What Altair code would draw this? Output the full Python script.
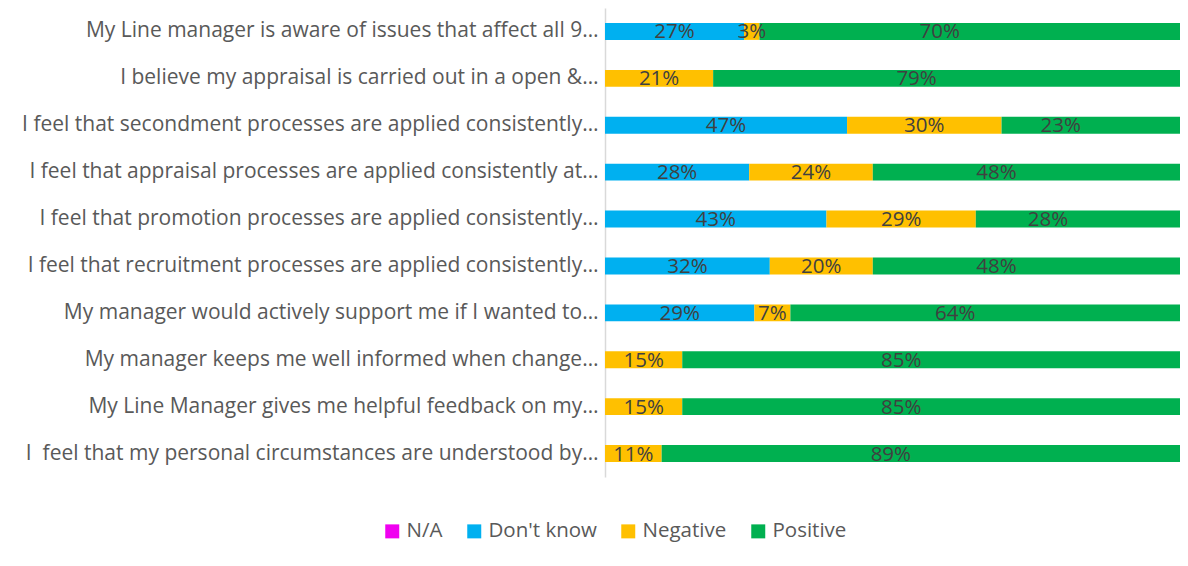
import altair as alt
import pandas as pd

categories = [
    "My Line manager is aware of issues that affect all 9\u2026",
    "I believe my appraisal is carried out in a open &\u2026",
    "I feel that secondment processes are applied consistently\u2026",
    "I feel that appraisal processes are applied consistently at\u2026",
    "I feel that promotion processes are applied consistently\u2026",
    "I feel that recruitment processes are applied consistently\u2026",
    "My manager would actively support me if I wanted to\u2026",
    "My manager keeps me well informed when change\u2026",
    "My Line Manager gives me helpful feedback on my\u2026",
    "I\u00a0 feel that my personal circumstances are understood by\u2026",
]
series_names = ["N/A", "Don't know", "Negative", "Positive"]
na_values = [0, 0, 0, 0, 0, 0, 0, 0, 0, 0]
dont_know_values = [27, 0, 47, 28, 43, 32, 29, 0, 0, 0]
negative_values = [3, 21, 30, 24, 29, 20, 7, 15, 15, 11]
positive_values = [70, 79, 23, 48, 28, 48, 64, 85, 85, 89]
series_colors = ["#F000F0", "#00B0F0", "#FFC000", "#00B050"]

# the plot area in the reference runs past 100% (the last segment fills it)
axis_max = 111.65

rows = []
for i, cat in enumerate(categories):
    vals = [na_values[i], dont_know_values[i], negative_values[i], positive_values[i]]
    start = 0
    for j, (name, v) in enumerate(zip(series_names, vals)):
        end = start + v
        bar_end = axis_max if name == "Positive" else end
        rows.append({
            "category": cat,
            "series": name,
            "order": j,
            "value": v,
            "start": start,
            "end": end,
            "bar_end": bar_end,
            "mid": (start + end) / 2,
            "label": f"{v}%",
        })
        start = end
df = pd.DataFrame(rows)

FONT = "Open Sans"

y_enc = alt.Y(
    "category:N",
    sort=categories,
    scale=alt.Scale(paddingInner=0.64, paddingOuter=0.32),
    axis=alt.Axis(
        title=None,
        ticks=False,
        grid=False,
        labelFont=FONT,
        labelFontSize=21,
        labelColor="#595959",
        labelPadding=7,
        labelLimit=700,
        domainColor="#D9D9D9",
        domainWidth=1.5,
    ),
)
x_scale = alt.Scale(domain=[0, axis_max], nice=False, zero=True)

bars = alt.Chart(df).transform_filter("datum.value > 0 || datum.series == 'N/A'").mark_bar().encode(
    y=y_enc,
    x=alt.X("start:Q", scale=x_scale, axis=None),
    x2="bar_end:Q",
    color=alt.Color(
        "series:N",
        scale=alt.Scale(domain=series_names, range=series_colors),
        legend=alt.Legend(
            title=None,
            orient="none",
            direction="horizontal",
            legendX=-223,
            legendY=513,
            symbolType="square",
            symbolSize=196,
            symbolStrokeWidth=0,
            symbolOpacity=1,
            labelFont=FONT,
            labelFontSize=20.5,
            labelColor="#595959",
            labelOffset=4,
            columnPadding=21,
        ),
    ),
    order="order:Q",
)

labels = alt.Chart(df).transform_filter("datum.value > 0").mark_text(
    font=FONT, fontSize=20.5, color="#404040", baseline="middle", align="center", dy=1
).encode(
    y=alt.Y("category:N", sort=categories),
    x=alt.X("mid:Q", scale=x_scale),
    text="label:N",
)

chart = alt.layer(bars, labels).properties(
    width=575,
    height=469,
    background="white",
    autosize=alt.AutoSizeParams(type="none"),
    padding={"left": 597, "top": 0, "right": 0, "bottom": 72},
).configure_view(stroke=None).configure_axisX(disable=True)

chart.save("out.html", embed_options={"renderer": "svg", "actions": False})
